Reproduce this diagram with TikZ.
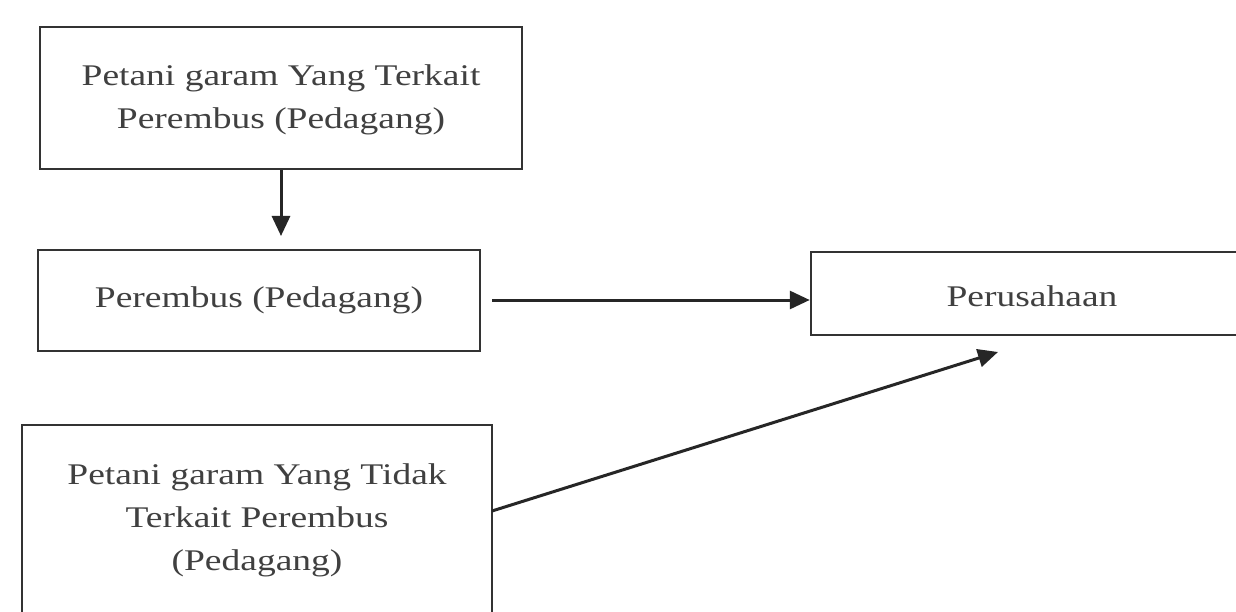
\documentclass[tikz,border=0pt]{standalone}
\usepackage{fontspec}
\setmainfont{Liberation Serif}[FakeStretch=1.25]
\usetikzlibrary{arrows.meta}
\begin{document}
\begin{tikzpicture}[x=1pt,y=1pt,
  box/.style={draw=black!80,line width=2.5pt,rectangle,inner sep=0pt,align=center,
    font=\fontsize{30}{43}\selectfont,text=black!75},
  conn/.style={draw=black!85,line width=3pt,-{Triangle[length=20pt,width=18pt]}}]
\useasboundingbox (0,0) rectangle (1236,-612);
\fill[white] (0,0) rectangle (1236,-612);
\node[box,minimum width=482,minimum height=142] (top) at (281,-98)
  {\raisebox{12pt}{\begin{tabular}{@{}c@{}}Petani garam Yang Terkait\\Perembus (Pedagang)\end{tabular}}};
\node[box,minimum width=442,minimum height=101] (mid) at (259,-300.5)
  {Perembus (Pedagang)};
\node[box,minimum width=426,minimum height=83] (right) at (1024,-293.5) {};
\node[font=\fontsize{30}{43}\selectfont,text=black!75] (rlabel) at (1032,-296) {Perusahaan};
\node[box,minimum width=470,minimum height=190] (bot) at (257,-520)
  {Petani garam Yang Tidak\\Terkait Perembus\\(Pedagang)};
\coordinate (vend) at (281,-236);
\coordinate (hstart) at (492,-300);
\coordinate (dstart) at (492,-511);
\coordinate (dend) at (998,-352);
\draw[conn] (top.south) -- (vend);
\draw[conn] (hstart) -- (right.west |- hstart);
\draw[conn] (dstart) -- (dend);
\end{tikzpicture}
\end{document}
